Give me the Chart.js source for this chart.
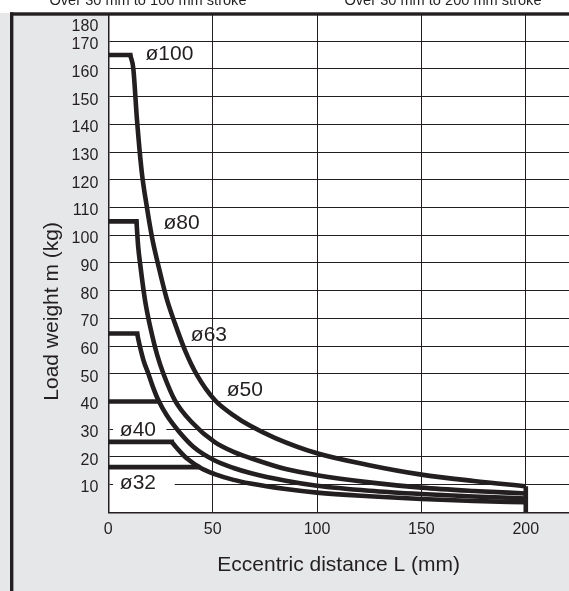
<!DOCTYPE html>
<html>
<head>
<meta charset="utf-8">
<script src="https://cdn.jsdelivr.net/npm/chart.js"></script>
<style>
  body { margin: 0; padding: 0; background: #e6e7e8; }
  #wrap { position: relative; width: 569px; height: 591px; }
</style>
</head>
<body>
<div id="wrap"><canvas id="loadChart"></canvas></div>
<script>
// Bore sizes and the flat (max) load each one allows before the curve starts
const sizes = ['ø100', 'ø80', 'ø63', 'ø50', 'ø40', 'ø32'];
const plateauLoad = [165, 105, 64.5, 40, 25.4, 16.3];
const plateauEnd = [10.5, 13.5, 13.8, 23.5, 30.4, 43];

// Falling part of the curves (eccentric distance mm -> load kg)
const dist100 = [10.5, 12, 13.7, 16, 18.5, 21, 24, 28, 32, 37, 42.5, 51, 60, 68, 80, 100, 125, 150, 175, 200];
const load100 = [165, 160, 142, 123, 110, 99, 89, 77, 68, 58, 49.5, 40.5, 35, 31.2, 26.8, 21.3, 17, 13.6, 11.3, 9.4];
const dist80 = [13.5, 14.3, 15.2, 17.6, 20.8, 23.5, 26.4, 31.9, 40, 51, 60, 68, 85, 100, 125, 150, 175, 200];
const load80 = [105, 96, 90, 76.5, 64.5, 56.5, 50, 40.4, 32.5, 25.3, 21.8, 19.6, 15.6, 13.4, 10.8, 8.9, 7.7, 6.8];
const dist63 = [13.8, 14.5, 15.2, 17, 19.2, 21.5, 24, 28, 34, 41, 51, 60, 68, 85, 100, 125, 150, 175, 200];
const load63 = [64.5, 62, 59.7, 54.5, 50, 45, 40.4, 35, 29, 23.5, 18.7, 16, 14.2, 11.4, 9.6, 7.8, 6.6, 5.7, 5.0];
const dist40 = [30.4, 32.5, 34.5, 38, 44.7, 51, 60, 68, 85, 100, 125, 150, 175, 200];
const load40 = [25.4, 23.5, 21.8, 19.2, 15.8, 13.8, 11.7, 10.4, 8.4, 7.1, 5.8, 4.8, 4.1, 3.6];

// closing stroke at the end of the range
const endDist = [200, 200];
const endLoad = [0, 9.4];

const xTicks = [0, 50, 100, 150, 200];
const yTicks = [10, 20, 30, 40, 50, 60, 70, 80, 90, 100, 110, 120, 130, 140, 150, 160, 170];
const yTopLabel = '180';

// where the bore tags sit (mm, kg)
const labelDist = [29.3, 35.1, 48.2, 65.4, 14.2, 14.2];
const labelLoad = [165.3, 104.4, 64, 44.1, 29.8, 10.4];

const captions = ['Over 30 mm to 100 mm stroke', 'Over 30 mm to 200 mm stroke'];

const ink = '#231f20';
const family = '"Liberation Sans", Arial, Helvetica, sans-serif';
// grid gaps behind the two small-bore tags (mm range)
const tagMask = { 4: [2.3, 27.8], 5: [2.3, 31.8] };

const toPts = (xs, ys) => xs.map((x, i) => ({ x: x, y: ys[i] }));
const lineStyle = {
    borderColor: ink,
    borderWidth: 4.6,
    pointRadius: 0,
    fill: false,
    showLine: true,
    borderJoinStyle: 'miter'
};

const datasets = [];
sizes.forEach((s, i) => {
    datasets.push(Object.assign({
        label: s,
        data: [{ x: 0, y: plateauLoad[i] }, { x: plateauEnd[i], y: plateauLoad[i] }],
        tension: 0,
        borderCapStyle: 'square'
    }, lineStyle));
});
[[dist100, load100], [dist80, load80], [dist63, load63], [dist40, load40]].forEach(c => {
    datasets.push(Object.assign({
        data: toPts(c[0], c[1]),
        cubicInterpolationMode: 'monotone',
        borderCapStyle: 'butt'
    }, lineStyle));
});
datasets.push(Object.assign({ data: toPts(endDist, endLoad), tension: 0, borderCapStyle: 'butt' }, lineStyle));

// keep the plot box exactly where the layout puts it
const noEdgePadding = s => {
    s.paddingTop = 0;
    s.paddingBottom = 0;
    s.paddingLeft = 0;
    s.paddingRight = 0;
};

const decor = {
    id: 'decor',
    beforeDraw(chart) {
        const { ctx, width, height, chartArea: a } = chart;
        ctx.save();
        ctx.fillStyle = '#ffffff';
        ctx.fillRect(0, 0, width, 13);
        ctx.fillStyle = '#e6e7e8';
        ctx.fillRect(0, 13, width, height - 13);
        ctx.fillStyle = '#ffffff';
        ctx.fillRect(a.left, a.top, a.right - a.left, a.bottom - a.top);
        ctx.restore();
    },
    beforeDatasetsDraw(chart) {
        const { ctx, scales: { x, y } } = chart;
        ctx.save();
        ctx.fillStyle = '#ffffff';
        Object.keys(tagMask).forEach(k => {
            const r = tagMask[k];
            const x0 = x.getPixelForValue(r[0]);
            const x1 = x.getPixelForValue(r[1]);
            const cy = y.getPixelForValue(labelLoad[k]);
            ctx.fillRect(x0, cy - 7, x1 - x0, 14);
        });
        ctx.fillStyle = ink;
        ctx.font = '21px ' + family;
        ctx.textAlign = 'center';
        ctx.textBaseline = 'middle';
        sizes.forEach((s, i) => {
            ctx.fillText(s, x.getPixelForValue(labelDist[i]), y.getPixelForValue(labelLoad[i]));
        });
        ctx.restore();
    },
    afterDraw(chart) {
        const { ctx, width, height, chartArea: a, scales: { y } } = chart;
        ctx.save();
        ctx.fillStyle = ink;
        // outer frame, left and top
        ctx.fillRect(10, 12.3, 3.4, height - 12.3);
        ctx.fillRect(10, 12.3, width - 10, 3.4);

        // panel captions (cut by the top edge)
        ctx.font = '14.6px ' + family;
        ctx.textAlign = 'center';
        ctx.textBaseline = 'alphabetic';
        ctx.fillText(captions[0], 148, 4.5);
        ctx.fillText(captions[1], 443, 4.5);

        // top tick label sits a little lower than its value
        ctx.font = '16px ' + family;
        ctx.textAlign = 'right';
        ctx.textBaseline = 'middle';
        ctx.fillText(yTopLabel, a.left - 10, y.getPixelForValue(175.2));

        // axis titles
        ctx.font = '21px ' + family;
        ctx.textAlign = 'center';
        ctx.fillText('Eccentric distance L (mm)', (a.left + a.right) / 2, 565);
        ctx.translate(52, y.getPixelForValue(72.5));
        ctx.rotate(-Math.PI / 2);
        ctx.fillText('Load weight m (kg)', 0, 0);
        ctx.restore();
    }
};

new Chart(document.getElementById('loadChart'), {
    type: 'scatter',
    data: { datasets: datasets },
    options: {
        responsive: true,
        maintainAspectRatio: false,
        animation: false,
        devicePixelRatio: 1,
        layout: { padding: { top: 13.5, right: 0, left: 0, bottom: 0 } },
        plugins: { legend: { display: false }, tooltip: { enabled: false } },
        scales: {
            x: {
                type: 'linear',
                min: 0,
                max: 220.7,
                afterBuildTicks: s => { s.ticks = xTicks.map(v => ({ value: v })); },
                afterFit: s => { s.height = 78.7; noEdgePadding(s); },
                grid: { color: ink, lineWidth: 1, drawTicks: false },
                border: { color: ink, width: 1.5 },
                ticks: { padding: 8, color: ink, font: { family: family, size: 16 } }
            },
            y: {
                type: 'linear',
                min: 0,
                max: 180,
                afterBuildTicks: s => { s.ticks = yTicks.map(v => ({ value: v })); },
                afterFit: s => { s.width = 108.3; noEdgePadding(s); },
                grid: { color: ink, lineWidth: 1, drawTicks: false },
                border: { color: ink, width: 1.5 },
                ticks: { padding: 10, labelOffset: 3.5, color: ink, font: { family: family, size: 16 } }
            }
        }
    },
    plugins: [decor]
});
</script>
</body>
</html>
